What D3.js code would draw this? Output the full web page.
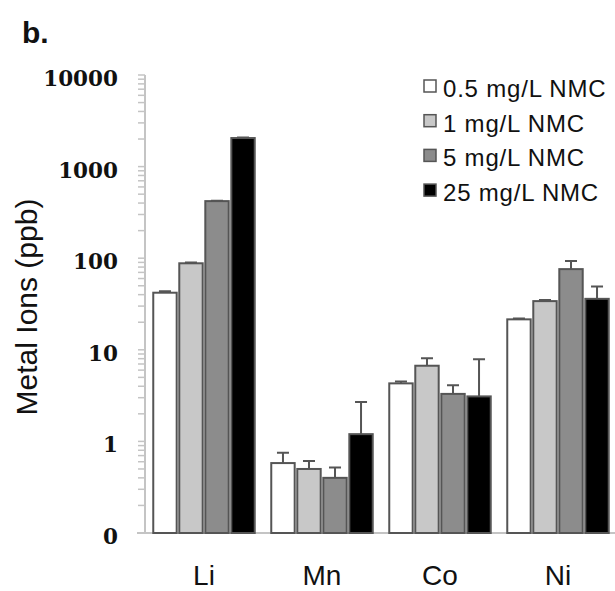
<!DOCTYPE html>
<html>
<head>
<meta charset="utf-8">
<script src="https://cdn.jsdelivr.net/npm/d3@7"></script>
<style>
  body { margin: 0; background: #fff; }
</style>
</head>
<body>
<div id="chart"></div>
<script>
var metals = ["Li", "Mn", "Co", "Ni"]
var doses = ["0.5 mg/L NMC", "1 mg/L NMC", "5 mg/L NMC", "25 mg/L NMC"]
var doseColors = ["#ffffff", "#c8c8c8", "#8c8c8c", "#000000"]

// mean values per dose, ordered Li, Mn, Co, Ni
var dose05 = [42, 0.58, 4.3, 21.5]
var dose1 = [88, 0.5, 6.7, 34]
var dose5 = [420, 0.4, 3.3, 76]
var dose25 = [2050, 1.2, 3.1, 36]

// upper ends of error bars
var err05 = [43.5, 0.75, 4.5, 22]
var err1 = [90, 0.61, 8.1, 35]
var err5 = [425, 0.52, 4.1, 93]
var err25 = [2080, 2.7, 7.9, 49]

var yTicks = [0.1, 1, 10, 100, 1000, 10000]

var values = [dose05, dose1, dose5, dose25]
var errors = [err05, err1, err5, err25]

var width = 615
var height = 591

var svg = d3.select("#chart")
  .append("svg")
  .attr("width", width)
  .attr("height", height)

var y = d3.scaleLog()
  .domain([0.1, 10000])
  .range([533, 75])

var x0 = d3.scaleBand()
  .domain(metals)
  .range([145, 617])
  .paddingInner(0.14)
  .paddingOuter(0.07)

var x1 = d3.scaleBand()
  .domain(d3.range(doses.length))
  .range([0, x0.bandwidth()])
  .paddingInner(0.1)

// minor ticks 2..9 per decade
var minor = []
for (var e = -1; e < 4; e++) {
  for (var m = 2; m < 10; m++) {
    minor.push(m * Math.pow(10, e))
  }
}

svg.append("g")
  .selectAll("line")
  .data(minor.concat(yTicks))
  .enter()
  .append("line")
  .attr("x1", 138)
  .attr("x2", 145)
  .attr("y1", function(d) { return y(d) })
  .attr("y2", function(d) { return y(d) })
  .attr("stroke", "#c4c4c4")
  .attr("stroke-width", 1.5)

svg.append("line")
  .attr("x1", 145).attr("x2", 145)
  .attr("y1", y(10000)).attr("y2", y(0.1))
  .attr("stroke", "#c4c4c4")
  .attr("stroke-width", 2)

svg.append("line")
  .attr("x1", 137).attr("x2", 615)
  .attr("y1", y(0.1)).attr("y2", y(0.1))
  .attr("stroke", "#c4c4c4")
  .attr("stroke-width", 2)

svg.append("g")
  .selectAll("text")
  .data(yTicks)
  .enter()
  .append("text")
  .text(function(d) { return d < 1 ? "0" : d })
  .attr("x", 118)
  .attr("y", function(d) { return y(d) + 11 })
  .attr("text-anchor", "end")
  .attr("font-family", "DejaVu Serif")
  .attr("font-weight", "bold")
  .attr("font-size", 21.5)
  .attr("fill", "#111")

var groups = svg.selectAll(".grp")
  .data(metals)
  .enter()
  .append("g")
  .attr("class", "grp")
  .attr("transform", function(d) { return "translate(" + x0(d) + ",0)" })

groups.selectAll("rect")
  .data(function(d, i) {
    return doses.map(function(s, j) {
      return { j: j, v: values[j][i], e: errors[j][i] }
    })
  })
  .enter()
  .append("rect")
  .attr("x", function(d) { return x1(d.j) })
  .attr("y", function(d) { return y(d.v) })
  .attr("width", x1.bandwidth())
  .attr("height", function(d) { return y(0.1) - y(d.v) })
  .attr("fill", function(d) { return doseColors[d.j] })
  .attr("stroke", "#555")
  .attr("stroke-width", 2)

groups.selectAll(".err")
  .data(function(d, i) {
    return doses.map(function(s, j) {
      return { j: j, v: values[j][i], e: errors[j][i] }
    })
  })
  .enter()
  .append("path")
  .attr("class", "err")
  .attr("d", function(d) {
    var cx = x1(d.j) + x1.bandwidth() / 2
    return "M" + cx + "," + y(d.v) + "V" + y(d.e) +
      "M" + (cx - 6) + "," + y(d.e) + "H" + (cx + 6)
  })
  .attr("fill", "none")
  .attr("stroke", "#555")
  .attr("stroke-width", 2)

svg.append("g")
  .selectAll("text")
  .data(metals)
  .enter()
  .append("text")
  .text(function(d) { return d })
  .attr("x", function(d) { return x0(d) + x0.bandwidth() / 2 })
  .attr("y", 585)
  .attr("text-anchor", "middle")
  .attr("font-family", "Liberation Sans")
  .attr("font-size", 28)
  .attr("fill", "#111")

svg.append("text")
  .text("Metal Ions (ppb)")
  .attr("transform", "translate(37,307) rotate(-90)")
  .attr("text-anchor", "middle")
  .attr("font-family", "Liberation Sans")
  .attr("font-size", 30)
  .attr("fill", "#111")

svg.append("text")
  .text("b.")
  .attr("x", 22)
  .attr("y", 43)
  .attr("font-family", "Liberation Sans")
  .attr("font-weight", "bold")
  .attr("font-size", 30)
  .attr("fill", "#111")

var legend = svg.append("g")
  .selectAll("g")
  .data(doses)
  .enter()
  .append("g")
  .attr("transform", function(d, i) { return "translate(424," + (80 + i * 34.7) + ")" })

legend.append("rect")
  .attr("width", 12)
  .attr("height", 12)
  .attr("fill", function(d, i) { return doseColors[i] })
  .attr("stroke", "#555")
  .attr("stroke-width", 1.5)

legend.append("text")
  .text(function(d) { return d })
  .attr("x", 19)
  .attr("y", 17)
  .attr("font-family", "Liberation Sans")
  .attr("font-size", 24)
  .attr("letter-spacing", 0.8)
  .attr("fill", "#111")
</script>
</body>
</html>
